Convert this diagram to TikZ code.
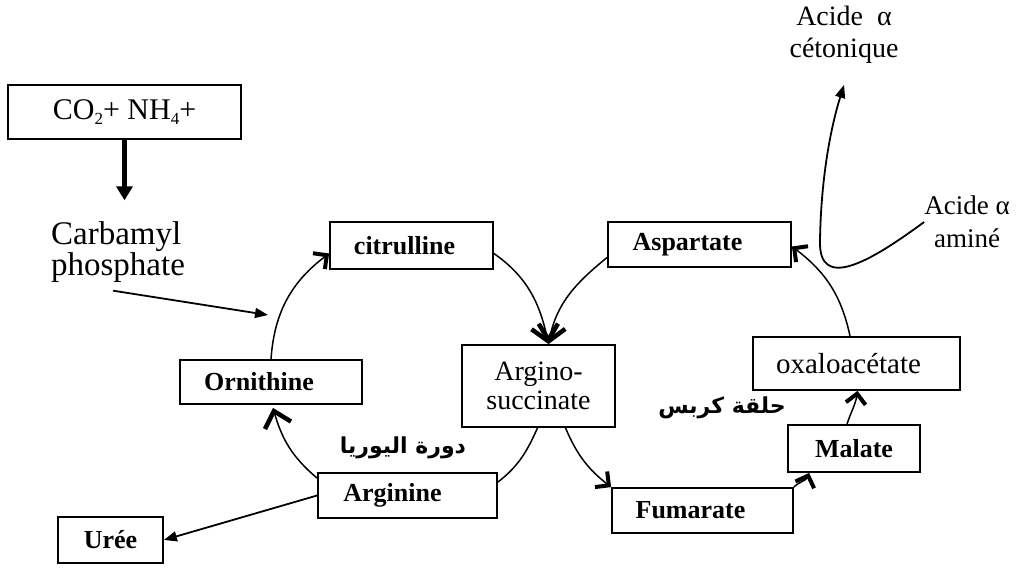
\documentclass[tikz,border=0pt]{standalone}
\usepackage{fontspec}
\setmainfont{Liberation Serif}
\newfontfamily\arabicfont[Script=Arabic]{DejaVu Sans}
\TeXXeTstate=1
\usetikzlibrary{arrows.meta}
\newcommand\mysub[1]{\raisebox{-5pt}{\fontsize{17}{17}\selectfont #1}}
\begin{document}
\begin{tikzpicture}[x=1pt,y=1pt,
  box/.style={draw, line width=1.8pt, inner sep=0pt, font=\fontsize{26}{30}\selectfont\bfseries},
  plainbox/.style={draw, line width=1.8pt, inner sep=0pt, align=center},
  txt/.style={inner sep=0pt, align=center, font=\fontsize{28}{32}\selectfont},
  cyc/.style={line width=1.5pt},
  barb/.style={cyc, -{Straight Barb[angle=90:14pt, line width=4pt]}},
  vhead/.style={cyc, -{Straight Barb[angle=85:20pt, line width=4.5pt]}},
  tri/.style={line width=1.8pt, -{Triangle[length=13pt, width=10pt]}},
  bigtri/.style={line width=4.5pt, -{Triangle[length=14pt, width=16pt]}},
  arlabel/.style={inner sep=0pt, font=\arabicfont\bfseries\fontsize{22}{26}\selectfont}]
\useasboundingbox (0,0) rectangle (1016,-569);
\fill[white] (0,0) rectangle (1016,-569);

% boxes
\node[plainbox, minimum width=233pt, minimum height=54pt, font=\fontsize{30}{34}\selectfont] (co2) at (124.5,-112) {CO\mysub{2}+ NH\mysub{4}+};
\node[box, minimum width=163pt, minimum height=47pt] (cit) at (411.5,-245.5) {citrulline\hspace*{14pt}};
\node[box, minimum width=183pt, minimum height=45pt] (asp) at (699.5,-244.5) {Aspartate\hspace*{24pt}};
\node[plainbox, minimum width=153pt, minimum height=82pt, font=\fontsize{28}{29}\selectfont] (argsuc) at (538.5,-386) {Argino-\\succinate};
\node[box, minimum width=182pt, minimum height=44pt] (orn) at (271,-382) {Ornithine\hspace*{24pt}};
\node[plainbox, minimum width=207pt, minimum height=53pt, font=\fontsize{29}{32}\selectfont] (oxa) at (856.5,-363.5) {oxaloacétate\hspace*{16pt}};
\node[box, minimum width=132pt, minimum height=47pt] (mal) at (854,-448.5) {Malate};
\node[box, minimum width=181pt, minimum height=45pt] (fum) at (702.5,-510.5) {Fumarate\hspace*{24pt}};
\node[box, minimum width=179pt, minimum height=45pt] (argi) at (407.5,-495.5) {Arginine\hspace*{30pt}};
\node[box, minimum width=105pt, minimum height=46pt] (uree) at (110.5,-540) {Urée};

% free texts
\node[txt, align=left, font=\fontsize{33}{29}\selectfont] (carb) at (118,-252) {Carbamyl\\phosphate};
\node[txt] (ceto) at (844,-35) {Acide~~α\\cétonique};
\node[txt, font=\fontsize{27}{33}\selectfont] (amine) at (967,-222) {Acide α\\aminé};
\node[arlabel] (uralab) at (403,-448) {\beginR دورة اليوريا\endR};
\node[arlabel] (krlab) at (722,-408) {\beginR حلقة كربس\endR};

\coordinate (hit) at (268,-315);

% inputs / outputs
\draw[bigtri] (co2.south) -- ([yshift=21pt]carb.north -| co2.south);
\draw[tri] ([xshift=-5pt,yshift=-8pt]carb.south) -- (hit);
\draw[tri] (argi.west) -- (uree.east);
\draw[tri] (amine.west) .. controls (870,-262) and (818,-292) .. (820,-240)
  .. controls (821,-180) and (830,-130) .. ([yshift=-21pt]ceto.south);

% urea cycle
\draw[barb] (orn.north) to[out=86, in=217] ([yshift=-8pt]cit.west);
\draw[vhead] ([yshift=-8pt]cit.east) to[out=-35, in=102] ([xshift=10pt]argsuc.north);
\draw[cyc] ([xshift=-1pt]argsuc.south) to[out=-114, in=38] ([yshift=-10pt]argi.north east);
\draw[vhead] ([yshift=-6pt]argi.north west) to[out=140, in=-74] ([xshift=2pt,yshift=-3pt]orn.south);

% Krebs cycle
\draw[vhead] ([yshift=-13pt]asp.west) to[out=219, in=79] ([xshift=10pt]argsuc.north);
\draw[barb] ([xshift=27pt]argsuc.south) to[out=293, in=142] (fum.north west);
\draw[barb] (fum.north east) to[out=45, in=250] ([xshift=22pt]mal.south west);
\draw[barb] ([xshift=-7pt]mal.north) to[out=72, in=262] ([xshift=1pt]oxa.south);
\draw[barb] ([xshift=-6.5pt]oxa.north) to[out=102, in=-37] ([yshift=-2pt]asp.east);
\end{tikzpicture}
\end{document}
